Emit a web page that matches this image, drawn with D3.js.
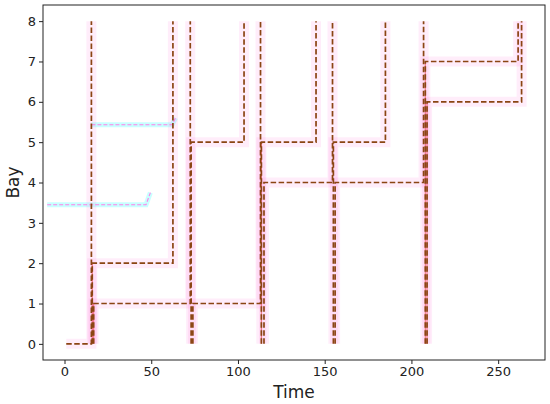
<!DOCTYPE html>
<html>
<head>
<meta charset="utf-8">
<script src="https://cdn.jsdelivr.net/npm/d3@7"></script>
<style>
  body { margin: 0; background: #fff; }
  svg text { font-family: "DejaVu Sans", sans-serif; fill: #222; }
</style>
</head>
<body>
<div id="chart"></div>
<script>

// --- Daten ---------------------------------------------------------------- //
// each move: enters at bay 0 at startTime, rises to its bay, stays, leaves to the top at endTime
var startTimes = [1, 16, 16.8, 73, 74, 113.5, 115, 155, 156, 208, 209];
var bays       = [0, 2, 1, 5, 1, 5, 4, 5, 4, 7, 6];
var endTimes   = [15.5, 62.5, 72.5, 103.5, 113, 145, 154.5, 185, 207, 261.5, 263.5];
var redStart   = [0, 1, 1, 0, 0, 1, 0, 0, 0, 1, 1];

// faint cyan traces
var cyanA_t = [-10, 47, 49.5];
var cyanA_b = [3.45, 3.45, 3.75];
var cyanB_t = [15.5, 62, 64];
var cyanB_b = [5.43, 5.43, 5.6];

var xTicks = [0, 50, 100, 150, 200, 250];
var yTicks = [0, 1, 2, 3, 4, 5, 6, 7, 8];
var topBay = 8;

// --- Aufbau --------------------------------------------------------------- //
var width = 550, height = 404;
var mLeft = 43, mRight = 545, mTop = 5, mBottom = 360;

var svg = d3.select('#chart').append('svg')
    .attr('width', width)
    .attr('height', height);

var x = d3.scaleLinear().domain([-12.4, 277]).range([mLeft, mRight]);
var y = d3.scaleLinear().domain([-0.4, 8.4]).range([mBottom, mTop]);

var line = d3.line()
    .x(function (d) { return x(d[0]); })
    .y(function (d) { return y(d[1]); });

function movePath(i) {
    return [
        [startTimes[i], 0],
        [startTimes[i], bays[i]],
        [endTimes[i], bays[i]],
        [endTimes[i], topBay]
    ];
}

svg.append('clipPath').attr('id', 'clip')
    .append('rect')
    .attr('x', mLeft).attr('y', mTop)
    .attr('width', mRight - mLeft).attr('height', mBottom - mTop);

var plot = svg.append('g')
    .attr('clip-path', 'url(#clip)');

// cyan traces
[[cyanA_t, cyanA_b], [cyanB_t, cyanB_b]].forEach(function (c) {
    var pts = c[0].map(function (t, k) { return [t, c[1][k]]; });
    plot.append('path')
        .attr('d', line(pts))
        .attr('fill', 'none')
        .attr('stroke', '#c8ffff')
        .attr('stroke-width', 5);
    plot.append('path')
        .attr('d', line(pts))
        .attr('fill', 'none')
        .attr('stroke', '#ff80e8')
        .attr('stroke-width', 1.1)
        .attr('stroke-dasharray', '4,2');
});

// pink bands
for (var i = 0; i < startTimes.length; i++) {
    plot.append('path')
        .attr('d', line(movePath(i)))
        .attr('fill', 'none')
        .attr('stroke', 'rgba(255,80,210,0.1)')
        .attr('stroke-width', 10)
        .attr('stroke-linejoin', 'miter');
}

// red rising segments
for (var i = 0; i < startTimes.length; i++) {
    if (!redStart[i]) { continue; }
    plot.append('path')
        .attr('d', line([[startTimes[i], 0], [startTimes[i], bays[i]]]))
        .attr('fill', 'none')
        .attr('stroke', '#e0101a')
        .attr('stroke-opacity', 0.5)
        .attr('stroke-width', 1.2);
}

// brown dashed moves
for (var i = 0; i < startTimes.length; i++) {
    plot.append('path')
        .attr('d', line(movePath(i)))
        .attr('fill', 'none')
        .attr('stroke', '#8b4513')
        .attr('stroke-width', 1.7)
        .attr('stroke-dasharray', '5.5,2.5');
}

// --- Achsen ---------------------------------------------------------------- //
var xAxis = svg.append('g')
    .attr('transform', 'translate(0,' + mBottom + ')')
    .call(d3.axisBottom(x).tickValues(xTicks).tickSize(4).tickPadding(3));

var yAxis = svg.append('g')
    .attr('transform', 'translate(' + mLeft + ',0)')
    .call(d3.axisLeft(y).tickValues(yTicks).tickSize(4).tickPadding(3));

[xAxis, yAxis].forEach(function (a) {
    a.select('.domain').remove();
    a.selectAll('text')
        .style('font-size', '13px')
        .style('font-family', '"DejaVu Sans", sans-serif')
        .attr('fill', '#222');
    a.selectAll('line').attr('stroke', '#222');
});

svg.append('rect')
    .attr('x', mLeft).attr('y', mTop)
    .attr('width', mRight - mLeft).attr('height', mBottom - mTop)
    .attr('fill', 'none')
    .attr('stroke', '#222')
    .attr('stroke-width', 1);

svg.append('text')
    .attr('x', (mLeft + mRight) / 2)
    .attr('y', 398)
    .attr('text-anchor', 'middle')
    .style('font-size', '17px')
    .text('Time');

svg.append('text')
    .attr('transform', 'translate(19,' + ((mTop + mBottom) / 2) + ') rotate(-90)')
    .attr('text-anchor', 'middle')
    .style('font-size', '17px')
    .text('Bay');

</script>
</body>
</html>
